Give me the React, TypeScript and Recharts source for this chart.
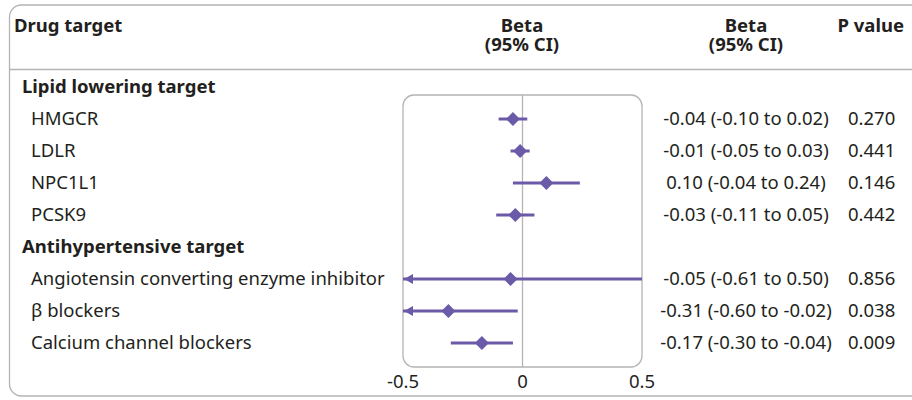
import {
  ScatterChart,
  Scatter,
  XAxis,
  YAxis,
  ReferenceLine,
  ReferenceArea,
} from "recharts";

const groups = ["Lipid lowering target", "Antihypertensive target"];
const targets = [
  "HMGCR",
  "LDLR",
  "NPC1L1",
  "PCSK9",
  "Angiotensin converting enzyme inhibitor",
  "β blockers",
  "Calcium channel blockers",
];
const targetGroup = [0, 0, 0, 0, 1, 1, 1];
const betas = [-0.04, -0.01, 0.1, -0.03, -0.05, -0.31, -0.17];
const lowerCI = [-0.1, -0.05, -0.04, -0.11, -0.61, -0.6, -0.3];
const upperCI = [0.02, 0.03, 0.24, 0.05, 0.5, -0.02, -0.04];
const pValues = ["0.270", "0.441", "0.146", "0.442", "0.856", "0.038", "0.009"];
const xTicks = [-0.5, 0, 0.5];

const X_MIN = -0.5;
const X_MAX = 0.5;
const PURPLE = "#6a5aa8";
const TEXT = "#231f20";
const BORDER = "#b4b4b4";
const FONT = "'Noto Sans', sans-serif";
const FS = 18.5;

const fmt = (v: number) => v.toFixed(2);

// rows: group header followed by its targets
type Row = { y: number; kind: "group" | "item"; label: string; i?: number };
const rows: Row[] = [];
groups.forEach((g, gi) => {
  rows.push({ y: rows.length, kind: "group", label: g });
  targets.forEach((t, i) => {
    if (targetGroup[i] === gi) rows.push({ y: rows.length, kind: "item", label: t, i });
  });
});
const items = rows.filter((r) => r.kind === "item");
const lastRow = rows.length - 1;

const points = items.map((r) => ({ x: betas[r.i!], y: r.y }));
const arrows = items
  .filter((r) => lowerCI[r.i!] < X_MIN)
  .map((r) => ({ x: X_MIN, y: r.y }));

const RowTick = (props: any) => {
  const { y, payload } = props;
  const row = rows.find((r) => r.y === payload.value);
  if (!row) return null;
  if (row.kind === "group") {
    return (
      <text x={22} y={y} dy="0.35em" fontSize={FS} fontWeight={700} fill={TEXT} fontFamily={FONT}>
        {row.label}
      </text>
    );
  }
  const i = row.i!;
  return (
    <g fontFamily={FONT} fontSize={FS} fill={TEXT}>
      <text x={31} y={y} dy="0.35em">{row.label}</text>
      <text x={746} y={y} dy="0.35em" textAnchor="middle">
        {`${fmt(betas[i])} (${fmt(lowerCI[i])} to ${fmt(upperCI[i])})`}
      </text>
      <text x={848} y={y} dy="0.35em">{pValues[i]}</text>
    </g>
  );
};

const Diamond = (props: any) => {
  const { cx, cy } = props;
  const r = 7;
  return (
    <polygon
      points={`${cx},${cy - r} ${cx + r},${cy} ${cx},${cy + r} ${cx - r},${cy}`}
      fill={PURPLE}
    />
  );
};

const Arrow = (props: any) => {
  const { cx, cy } = props;
  return (
    <polygon
      points={`${cx + 1},${cy} ${cx + 10},${cy - 5} ${cx + 10},${cy + 5}`}
      fill={PURPLE}
    />
  );
};

const Box = (props: any) => {
  const { x, y, width, height } = props;
  return (
    <rect x={x} y={y} width={width} height={height} rx={11} fill="none" stroke={BORDER} strokeWidth={1.3} />
  );
};

// table frame and column headings
const Frame = () => (
  <svg width={912} height={400} style={{ position: "absolute", left: 0, top: 0 }}>
    <rect x={9.5} y={5} width={940} height={391} rx={12} fill="#fff" stroke={BORDER} strokeWidth={1.3} />
    <line x1={10} x2={912} y1={69.5} y2={69.5} stroke={BORDER} strokeWidth={1.3} />
    <g fontFamily={FONT} fontSize={FS} fontWeight={700} fill={TEXT}>
      <text x={14} y={32}>Drug target</text>
      <text x={522} y={32} textAnchor="middle">Beta</text>
      <text x={522} y={51} textAnchor="middle">(95% CI)</text>
      <text x={746} y={32} textAnchor="middle">Beta</text>
      <text x={746} y={51} textAnchor="middle">(95% CI)</text>
      <text x={904} y={32} textAnchor="end">P value</text>
    </g>
  </svg>
);

export default function App() {
  return (
    <div style={{ position: "absolute", left: 0, top: 0, width: 912, height: 400, overflow: "hidden" }}>
      <Frame />
      <div style={{ position: "absolute", left: 0, top: 0 }}>
        <ScatterChart width={912} height={400} margin={{ top: 71, right: 270, bottom: 5, left: 0 }}>
          <XAxis
            type="number"
            dataKey="x"
            domain={[X_MIN, X_MAX]}
            ticks={xTicks}
            allowDataOverflow
            axisLine={false}
            tickLine={false}
            height={28}
            tickFormatter={(v: number) => (v === 0 ? "0" : String(v))}
            tick={{ fontSize: FS, fill: TEXT, fontFamily: FONT }}
          />
          <YAxis
            type="number"
            dataKey="y"
            domain={[-0.5, lastRow + 0.75]}
            reversed
            allowDataOverflow
            ticks={rows.map((r) => r.y)}
            interval={0}
            width={403}
            axisLine={false}
            tickLine={false}
            tick={<RowTick />}
          />
          <ReferenceArea x1={X_MIN} x2={X_MAX} y1={0.25} y2={lastRow + 0.75} shape={<Box />} />
          <ReferenceLine
            segment={[
              { x: 0, y: 0.25 },
              { x: 0, y: lastRow + 0.75 },
            ]}
            stroke={BORDER}
            strokeWidth={1.3}
          />
          {items.map((r) => (
            <ReferenceLine
              key={r.label}
              segment={[
                { x: Math.max(lowerCI[r.i!], X_MIN), y: r.y },
                { x: Math.min(upperCI[r.i!], X_MAX), y: r.y },
              ]}
              stroke={PURPLE}
              strokeWidth={3}
            />
          ))}
          <Scatter data={points} shape={<Diamond />} isAnimationActive={false} />
          <Scatter data={arrows} shape={<Arrow />} isAnimationActive={false} />
        </ScatterChart>
      </div>
    </div>
  );
}
